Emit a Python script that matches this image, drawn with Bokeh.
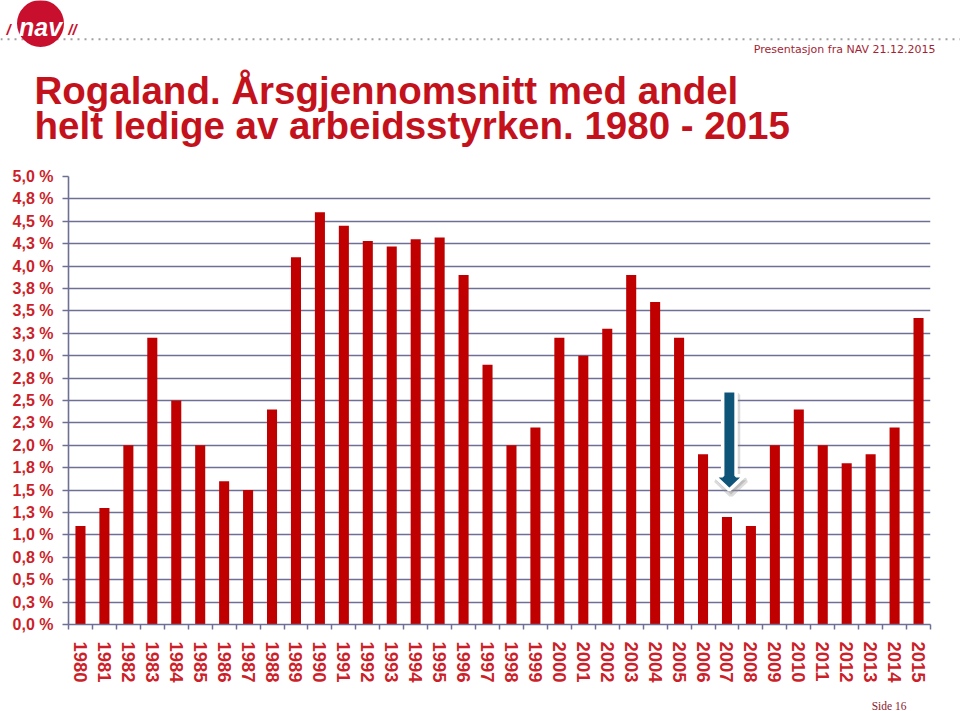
from bokeh.plotting import figure
from bokeh.models import ColumnDataSource, Range1d, FixedTicker
from bokeh.layouts import column
from bokeh.core.properties import value
from bokeh.embed import file_html
from bokeh.resources import INLINE

# ---------------- data ----------------
years = ["1980", "1981", "1982", "1983", "1984", "1985", "1986", "1987", "1988", "1989",
         "1990", "1991", "1992", "1993", "1994", "1995", "1996", "1997", "1998", "1999",
         "2000", "2001", "2002", "2003", "2004", "2005", "2006", "2007", "2008", "2009",
         "2010", "2011", "2012", "2013", "2014", "2015"]
ledige_pct = [1.1, 1.3, 2.0, 3.2, 2.5, 2.0, 1.6, 1.5, 2.4, 4.1,
              4.6, 4.45, 4.28, 4.22, 4.3, 4.32, 3.9, 2.9, 2.0, 2.2,
              3.2, 3.0, 3.3, 3.9, 3.6, 3.2, 1.9, 1.2, 1.1, 2.0,
              2.4, 2.0, 1.8, 1.9, 2.2, 3.42]
ytick_values = [0.0, 0.25, 0.5, 0.75, 1.0, 1.25, 1.5, 1.75, 2.0, 2.25, 2.5,
                2.75, 3.0, 3.25, 3.5, 3.75, 4.0, 4.25, 4.5, 4.75, 5.0]
ytick_labels = ["0,0 %", "0,3 %", "0,5 %", "0,8 %", "1,0 %", "1,3 %", "1,5 %", "1,8 %",
                "2,0 %", "2,3 %", "2,5 %", "2,8 %", "3,0 %", "3,3 %", "3,5 %", "3,8 %",
                "4,0 %", "4,3 %", "4,5 %", "4,8 %", "5,0 %"]
title_lines = ["Rogaland. Årsgjennomsnitt med andel",
               "helt ledige av arbeidsstyrken. 1980 - 2015"]
subtitle = "Presentasjon fra NAV 21.12.2015"
page_label = "Side 16"
arrow_year = "2007"
arrow_top, arrow_head, arrow_tip = 2.61, 1.66, 1.50

RED_TITLE = "#c4121c"
RED_LABEL = "#cc1f2a"
BAR = "#c00000"
GRID = "#6e6f95"
FONT = "Liberation Sans"

W, H_HDR, H_MAIN, H_FTR = 960, 158, 531, 22


def bare(fig):
    fig.outline_line_color = None
    fig.grid.visible = False
    if "frame_align" in fig.properties():
        fig.frame_align = False


# ---------------- header (page-pixel coordinates) ----------------
hdr = figure(width=W, height=H_HDR, x_range=Range1d(0, W), y_range=Range1d(H_HDR, 0),
             output_backend="svg", toolbar_location=None,
             x_axis_location=None, y_axis_location=None, min_border=0)
bare(hdr)
hdr.line(x=[0, W], y=[38.7, 38.7], line_color="#a0a0a0", line_width=2, line_dash="2 5")
hdr.circle(x=[40], y=[23], radius=23.5, fill_color="#c8102e", line_color=None)
hdr.text(x=[40], y=[26], text=["nav"], text_font=value(FONT), text_font_style="bold italic",
         text_font_size="25px", text_color="white", text_align="center", text_baseline="middle")
hdr.text(x=[8, 72], y=[29, 29], text=["/", "//"], text_font=value(FONT), text_font_style="bold italic",
         text_font_size="15px", text_color="#c8102e", text_align="center", text_baseline="middle")
hdr.text(x=[935], y=[49], text=[subtitle], text_font=value("DejaVu Sans"),
         text_font_size="11px", text_color="#a31f34", text_align="right", text_baseline="middle")
hdr.text(x=[34, 34], y=[89.5, 125], text=title_lines, text_font=value(FONT),
         text_font_style="bold", text_font_size="38.5px", text_color=RED_TITLE,
         text_align="left", text_baseline="alphabetic")

# ---------------- main chart ----------------
positions = list(range(1, len(years) + 1))
src = ColumnDataSource(dict(x=positions, top=ledige_pct, year=years))

p = figure(width=W, height=H_MAIN, x_range=Range1d(0.5, len(years) + 0.5), y_range=Range1d(0, 5),
           output_backend="svg", toolbar_location=None,
           min_border_left=68, min_border_right=30, min_border_top=18, min_border_bottom=65)
p.outline_line_color = None
p.xgrid.visible = False
p.ygrid.ticker = FixedTicker(ticks=ytick_values)
p.ygrid.grid_line_color = GRID
p.ygrid.grid_line_width = 1.6
if "frame_align" in p.properties():
    p.frame_align = False

p.vbar(x="x", top="top", width=0.42, source=src, fill_color=BAR, line_color=None)

# y axis
ya = p.yaxis[0]
ya.ticker = FixedTicker(ticks=ytick_values)
ya.major_label_overrides = {v: s for v, s in zip(ytick_values, ytick_labels)}
ya.axis_line_color = GRID
ya.axis_line_width = 1.6
ya.major_tick_line_color = GRID
ya.major_tick_line_width = 1.5
ya.major_tick_in = 0
ya.major_tick_out = 6
ya.minor_tick_line_color = None
ya.major_label_standoff = 9
ya.major_label_text_font = FONT
ya.major_label_text_font_style = "bold"
ya.major_label_text_font_size = "16px"
ya.major_label_text_color = RED_LABEL

# x axis: labels at centres, tick marks at category boundaries
xa = p.xaxis[0]
bounds = [x - 0.5 for x in positions] + [positions[-1] + 0.5]
xa.ticker = FixedTicker(ticks=positions, minor_ticks=bounds)
xa.major_label_overrides = {x: y for x, y in zip(positions, years)}
xa.axis_line_color = GRID
xa.axis_line_width = 1.6
xa.major_tick_line_color = None
xa.major_tick_in = 0
xa.major_tick_out = 0
xa.minor_tick_line_color = GRID
xa.minor_tick_line_width = 1.5
xa.minor_tick_in = 0
xa.minor_tick_out = 5
xa.major_label_orientation = "vertical"
xa.major_label_standoff = 12
xa.major_label_text_font = FONT
xa.major_label_text_font_style = "bold"
xa.major_label_text_font_size = "18.5px"
xa.major_label_text_color = RED_LABEL

# arrow annotation pointing down at the 2007 bar
xc = positions[years.index(arrow_year)] + 0.1
sw, hw = 0.28, 0.63
ax = [xc - sw, xc + sw, xc + sw, xc + hw, xc, xc - hw, xc - sw]
ay = [arrow_top, arrow_top, arrow_head, arrow_head, arrow_tip, arrow_head, arrow_head]
p.patch(x=[v + 0.07 for v in ax], y=[v - 0.05 for v in ay], fill_color="#888888",
        fill_alpha=0.35, line_color="#888888", line_alpha=0.3, line_width=5)
p.patch(x=ax, y=ay, fill_color="#0e5478", line_color="white", line_width=3.5)

# ---------------- footer (page-pixel coordinates) ----------------
y0 = H_HDR + H_MAIN
ftr = figure(width=W, height=H_FTR, x_range=Range1d(0, W), y_range=Range1d(y0 + H_FTR, y0),
             output_backend="svg", toolbar_location=None,
             x_axis_location=None, y_axis_location=None, min_border=0)
bare(ftr)
ftr.text(x=[906], y=[705.5], text=[page_label], text_font=value("Liberation Serif"),
         text_font_size="11.5px", text_color="#8b1a2b", text_align="right", text_baseline="middle")

layout = column(hdr, p, ftr, spacing=0)
open("out.html", "w").write(file_html(layout, INLINE))
